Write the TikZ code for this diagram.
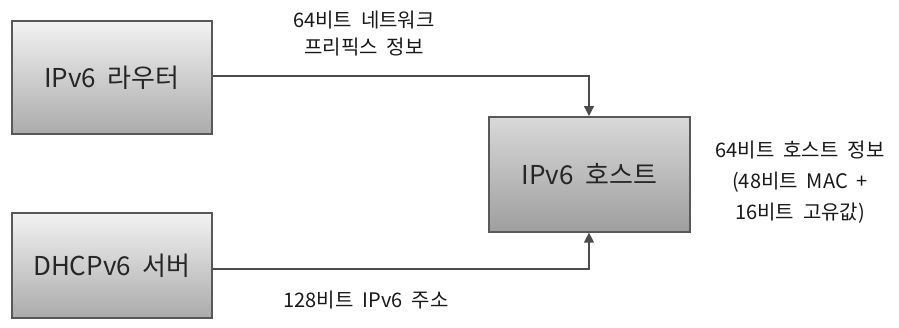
\documentclass[tikz,border=0pt]{standalone}
\usepackage{fontspec}
\setmainfont{Noto Sans CJK KR}
\usetikzlibrary{arrows.meta}
\begin{document}
\begin{tikzpicture}[x=1pt,y=-1pt,
  boxstyle/.style={draw=black!65,line width=1.6pt,minimum width=200pt,anchor=north west,inner sep=0pt,font=\fontsize{26}{30}\selectfont,text=black!85},
  lightbox/.style={boxstyle,top color=black!5,bottom color=black!33},
  darkbox/.style={boxstyle,top color=black!15,bottom color=black!38},
  conn/.style={draw=black!70,line width=1.3pt},
  arr/.style={conn,-{Triangle[length=10pt,width=10pt]}},
  lbl/.style={font=\fontsize{20}{27}\selectfont,text=black!90,align=center}]
\useasboundingbox (0,0) rectangle (899,327);
\node[lightbox,minimum height=113pt] (router) at (11,20) {IPv6\ \ 라우터};
\node[lightbox,minimum height=105pt] (dhcp) at (11,212) {DHCPv6\ \ 서버};
\node[darkbox,minimum height=115pt,minimum width=201pt] (host) at (488,116) {IPv6\ \ 호스트};
\coordinate (c1) at (589,76);
\coordinate (c2) at (589,269);
\draw[arr] (router.east |- c1) -- (c1) -- (host.north -| c1);
\draw[arr] (dhcp.east |- c2) -- (c2) -- (host.south -| c2);
\node[lbl] (t1) at (364,34) {64비트\ \ 네트워크\\프리픽스\ \ 정보};
\node[lbl] (t2) at (366,300) {128비트\ \ IPv6\ \ 주소};
\node[lbl,font=\fontsize{20}{31}\selectfont] (t3) at (800,182) {64비트\ \ 호스트\ \ 정보\\(48비트\ \ MAC\ \ +\\16비트\ \ 고유값)};
\end{tikzpicture}
\end{document}
